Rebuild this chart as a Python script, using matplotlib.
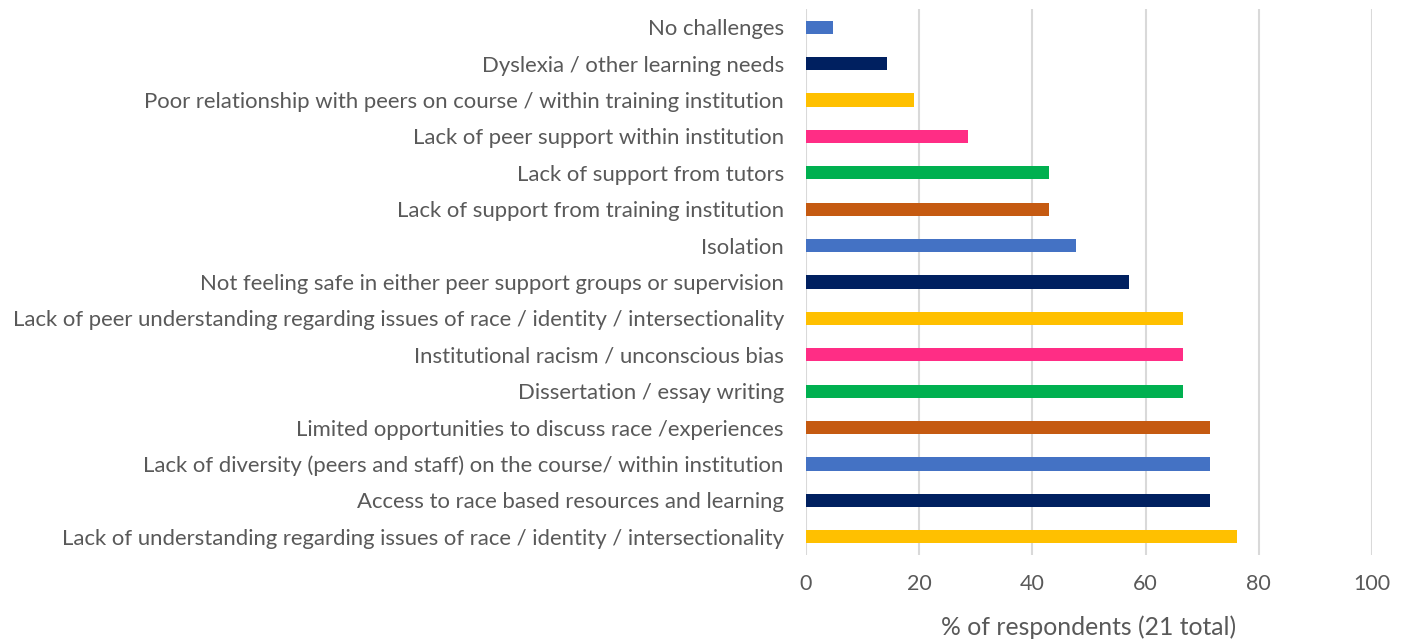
import matplotlib
matplotlib.use("Agg")
import matplotlib.pyplot as plt

categories = [
    "No challenges",
    "Dyslexia / other learning needs",
    "Poor relationship with peers on course / within training institution",
    "Lack of peer support within institution",
    "Lack of support from tutors",
    "Lack of support from training institution",
    "Isolation",
    "Not feeling safe in either peer support groups or supervision",
    "Lack of peer understanding regarding issues of race / identity / intersectionality",
    "Institutional racism / unconscious bias",
    "Dissertation / essay writing",
    "Limited opportunities to discuss race /experiences",
    "Lack of diversity (peers and staff) on the course/ within institution",
    "Access to race based resources and learning",
    "Lack of understanding regarding issues of race / identity / intersectionality",
]
values = [4.76, 14.29, 19.05, 28.57, 42.86, 42.86, 47.62, 57.14,
          66.67, 66.67, 66.67, 71.43, 71.43, 71.43, 76.19]
colors = ["#4472C4", "#002060", "#FFC000", "#FF2D85", "#00B050", "#C55A11",
          "#4472C4", "#002060", "#FFC000", "#FF2D85", "#00B050", "#C55A11",
          "#4472C4", "#002060", "#FFC000"]
xticks = [0, 20, 40, 60, 80, 100]
xlabel = "% of respondents (21 total)"

plt.rcParams['font.family'] = ['Lato', 'DejaVu Sans']
txt = "#595959"

fig = plt.figure(figsize=(14.08, 6.42), dpi=100)
ax = fig.add_axes([806/1408, 1-555/642, (1372-806)/1408, (555-9)/642])
ypos = list(range(len(categories)))[::-1]
ax.barh(ypos, values, height=0.36, color=colors, zorder=3)
ax.set_ylim(-0.5, len(categories)-0.5)
ax.set_xlim(0, 100)
ax.set_xticks(xticks)
ax.set_yticks(ypos)
ax.set_yticklabels(categories, fontsize=15.9, color=txt)
ax.tick_params(axis='x', labelsize=15.5, colors=txt, length=0, pad=14)
ax.tick_params(axis='y', length=0, pad=16)
ax.grid(axis='x', color="#D9D9D9", linewidth=1.5, zorder=0)
for s in ax.spines.values():
    s.set_visible(False)
ax.set_xlabel(xlabel, fontsize=17.8, color=txt, labelpad=15)
fig.savefig("out.png", dpi=100)
